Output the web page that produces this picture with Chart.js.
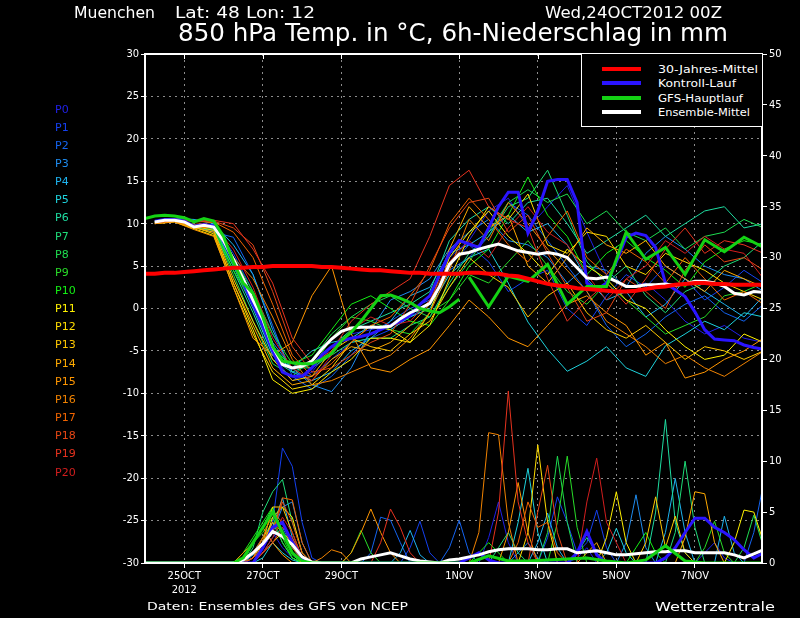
<!DOCTYPE html>
<html>
<head>
<meta charset="utf-8">
<title>850 hPa Temp. Muenchen</title>
<script src="https://cdn.jsdelivr.net/npm/chart.js@4.4.0/dist/chart.umd.min.js"></script>
<style>
  html, body { margin: 0; padding: 0; background: #000; }
  #wrap { position: relative; width: 800px; height: 618px; overflow: hidden; background: #000; }
  #c { position: absolute; left: 0; top: 0; }
  .t { position: absolute; color: #fff; font-family: "DejaVu Sans", sans-serif; white-space: nowrap; line-height: 1; transform-origin: 0 0; }
  #legend { position: absolute; left: 581px; top: 54px; width: 180px; height: 72px; background: #000; border-left: 1px solid #fff; border-bottom: 1px solid #fff; }
  .sw { position: absolute; left: 20px; width: 39px; height: 4px; }
</style>
</head>
<body>
<div id="wrap">
  <canvas id="c" width="800" height="618"></canvas>

  <div class="t" data-w="81" style="left:74px;top:5.6px;font-size:15px">Muenchen</div>
  <div class="t" data-w="140" style="left:175px;top:5.6px;font-size:15px">Lat: 48 Lon: 12</div>
  <div class="t" data-w="177" style="left:545px;top:5.6px;font-size:15px">Wed,24OCT2012 00Z</div>
  <div class="t" data-w="550" style="left:178px;top:21.4px;font-size:24px">850 hPa Temp. in °C, 6h-Niederschlag in mm</div>

  <div id="members"></div>

  <div id="legend">
    <div class="sw" style="top:13px;background:#ff0000"></div>
    <div class="sw" style="top:27px;background:#2a14ff"></div>
    <div class="sw" style="top:42px;background:#14d214"></div>
    <div class="sw" style="top:56px;background:#ffffff"></div>
    <div class="t" data-w="100" style="left:76px;top:9.5px;font-size:11px">30-Jahres-Mittel</div>
    <div class="t" data-w="78" style="left:76px;top:23.5px;font-size:11px">Kontroll-Lauf</div>
    <div class="t" data-w="85" style="left:76px;top:38.5px;font-size:11px">GFS-Hauptlauf</div>
    <div class="t" data-w="92" style="left:76px;top:52.5px;font-size:11px">Ensemble-Mittel</div>
  </div>

  <div class="t" data-w="261" style="left:147px;top:602px;font-size:10px">Daten: Ensembles des GFS von NCEP</div>
  <div class="t" data-w="120" style="left:655px;top:600.5px;font-size:12px">Wetterzentrale</div>
</div>

<script>
// forecast hours since 24OCT2012 00Z
const hours6 = [0,6,12,18,24,30,36,42,48,54,60,66,72,78,84,90,96,102,108,114,120,126,132,138,
  144,150,156,162,168,174,180,186,192,198,204,210,216,222,228,234,240,246,252,258,264,270,276,282,
  288,294,300,306,312,318,324,330,336,342,348,354,360,366,372,378];
const hours12 = [6,18,30,42,54,66,78,90,102,114,126,138,150,162,174,186,
  198,210,222,234,246,258,270,282,294,306,318,330,342,354,366,378];
const gfsHoursHi = hours6.slice(0, 33);
const gfsHoursLo = hours12.slice(16);

const dateHours = [24, 72, 120, 192, 240, 288, 336];
const dateLabels = [["25OCT", "2012"], "27OCT", "29OCT", "1NOV", "3NOV", "5NOV", "7NOV"];

const memberNames = ["P0","P1","P2","P3","P4","P5","P6","P7","P8","P9","P10",
  "P11","P12","P13","P14","P15","P16","P17","P18","P19","P20"];
const memberColors = ['#2020e6','#1440f0','#1464f0','#1e8cf0','#1eb4f0','#1ed2dc','#1edca0',
  '#1edc78','#1edc50','#28dc28','#14f014','#fff000','#ffdc00','#ffc800','#ffaa00','#ff9600',
  '#f08200','#f06400','#e64614','#e6321e','#d21e1e'];

// 850 hPa temperature of the members (12h steps, hours12)
const memberTemp = [
  [10.2,10.5,9.8,9.6, 5.5,0.5,-5.5,-8.5, -7.5,-4.5,-3.0,-2.5, -2.0,-0.5,1.5,6.0, 8.0,11.5,13.0,9.5, 12.0,14.5,9.0,4.0, 2.5,3.0,1.0,-1.5, -3.0,-2.0,-3.5,-4.0],
  [10.3,10.6,9.9,9.9, 6.5,2.0,-3.0,-7.5, -8.0,-6.0,-4.0,-3.5, -2.5,-1.0,0.5,5.0, 7.5,5.5,2.0,3.5, 4.5,0.0,-2.0,1.5, 4.0,2.5,5.0,3.5, 1.0,2.5,4.5,3.0],
  [10.1,10.4,9.6,9.0, 8.4,4.0,-2.0,-8.0, -9.5,-8.0,-5.5,-3.0, -1.5,0.0,1.0,4.5, 6.0,8.5,12.5,11.0, 8.0,5.0,2.0,-2.0, -4.5,-3.0,-1.0,0.5, 1.5,-0.5,-1.5,0.5],
  [10.2,10.5,9.7,9.5, 6.0,1.5,-4.0,-7.0, -9.0,-9.8,-7.0,-2.5, 1.0,2.0,3.5,7.0, 9.0,10.5,8.0,7.5, 6.0,3.0,5.0,4.5, 2.5,6.5,8.5,7.0, 5.0,4.0,3.5,2.0],
  [10.3,10.6,10.5,10.0, 7.5,4.0,-2.5,-7.5, -8.5,-7.5,-5.0,-3.5, -1.5,1.5,2.5,6.5, 7.5,9.0,11.0,9.0, 10.0,7.5,3.5,1.0, 2.0,-1.0,0.5,3.5, 2.0,0.5,-1.0,1.5],
  [10.2,10.4,9.8,9.7, 5.0,0.0,-5.5,-7.0, -5.0,-4.0,-3.5,-2.0, -2.5,-1.0,0.0,4.0, 6.0,7.0,3.0,-1.6, -4.8,-7.4,-6.2,-4.5, -7.0,-8.0,-4.4,-3.0, -1.5,-2.5,-0.5,-1.0],
  [10.1,10.3,9.5,9.2, 4.5,-0.5,-6.0,-7.5, -6.5,-4.5,-2.5,-1.5, -0.5,0.5,2.0,8.0, 10.5,12.0,10.0,12.5, 13.0,10.0,6.5,8.0, 9.5,11.0,8.5,10.0, 11.5,12.0,9.5,10.0],
  [10.2,10.5,9.7,9.4, 5.0,0.5,-4.5,-7.0, -7.0,-5.5,-4.0,-3.5, -3.5,-2.0,-1.0,3.0, 6.5,8.5,12.0,13.0, 16.3,11.0,5.5,3.0, 5.0,1.5,-0.5,2.0, 3.0,5.0,6.0,8.0],
  [10.2,10.4,9.6,9.3, 4.0,-1.5,-6.5,-8.0, -6.0,-3.0,-1.0,0.5, 1.5,0.0,-1.0,2.5, 5.5,9.0,12.5,14.0, 12.5,13.5,10.0,11.5, 9.0,8.0,9.5,7.0, 8.5,9.0,10.5,9.5],
  [10.3,10.6,9.9,9.8, 6.0,2.0,-3.0,-6.5, -7.0,-3.5,-1.0,-1.5, -2.5,-3.0,-0.5,1.0, 4.0,3.0,5.5,8.0, 5.0,2.0,0.5,3.0, 1.0,-1.0,-3.0,-2.0, -1.0,1.5,2.0,3.0],
  [10.2,10.5,9.8,9.6, 4.5,0.5,-5.0,-6.5, -5.5,-2.5,0.5,1.5, 0.0,-1.5,-2.0,1.0, 5.0,7.0,11.0,15.5, 11.0,8.5,4.0,6.5, 8.0,6.0,4.5,2.5, 5.5,7.0,8.0,7.5],
  [10.1,10.3,9.6,8.8, 3.0,-2.5,-8.4,-10.0, -9.5,-7.5,-6.0,-3.5, -3.5,-4.0,-0.5,6.0, 9.0,11.5,8.5,6.5, 4.0,7.0,5.0,3.5, 1.0,0.0,-2.5,-4.5, -6.0,-5.5,-3.0,-4.0],
  [10.0,10.2,9.4,8.6, 2.5,-3.0,-7.5,-9.5, -9.0,-7.0,-4.0,-2.0, -2.5,-4.0,-2.0,3.5, 8.5,12.0,10.5,13.5, 7.5,6.5,9.0,8.5, 5.0,4.0,6.5,5.5, 4.5,3.0,2.0,1.0],
  [10.1,10.4,9.7,9.2, 3.5,-1.5,-6.0,-8.5, -8.0,-5.0,-3.5,-4.5, -5.0,-3.0,-1.5,2.5, 6.0,4.0,2.5,-1.0, 1.5,3.0,-0.5,-2.5, -3.5,-2.0,-4.0,-6.0, -4.5,-5.0,-6.0,-5.0],
  [10.0,10.3,9.5,9.0, 3.0,-2.0,-7.0,-9.0, -8.5,-6.0,-4.5,-5.0, -4.0,-2.0,0.5,7.0, 12.0,9.5,11.0,5.0, 3.0,6.0,9.5,7.5, 6.5,8.0,5.0,3.5, 2.0,4.5,3.5,2.5],
  [10.0,10.2,9.3,8.5, 2.5,-3.5,-5.5,-4.0, 1.5,5.0,-3.0,-7.0, -7.5,-6.0,-4.8,-2.0, 1.0,-1.0,-3.5,-4.5, -2.0,0.5,1.5,-0.5, -2.0,-5.5,-4.0,-8.2, -7.5,-6.0,-5.0,-3.5],
  [10.1,10.3,9.6,9.5, 6.0,3.5,-1.0,-6.0, -9.0,-8.5,-7.5,-6.5, -5.5,-3.5,-0.5,4.5, 10.5,8.0,12.5,10.0, 7.0,4.5,2.0,-1.5, -3.0,-4.5,-6.5,-5.5, -7.0,-8.0,-6.5,-5.0],
  [10.2,10.5,9.9,10.2, 9.0,6.0,0.5,-5.5, -8.0,-6.5,-4.0,-2.0, -1.0,1.5,4.5,10.0, 13.0,10.5,7.5,5.5, 8.5,11.5,6.0,4.0, 7.0,5.5,3.0,6.0, 3.5,1.0,2.0,0.5],
  [10.3,10.6,10.2,10.3, 9.5,7.5,2.0,-4.5, -7.5,-7.0,-5.5,-4.0, -3.0,0.5,5.0,9.5, 12.5,13.0,9.0,11.0, 6.5,2.5,-1.5,-0.5, 3.5,2.0,0.0,4.5, 7.5,5.5,6.0,4.5],
  [10.2,10.5,10.3,10.4, 10.0,7.0,3.0,-3.5, -6.5,-5.0,-1.5,0.5, 2.0,3.5,8.5,14.5, 16.3,12.0,10.5,9.5, 3.5,-1.5,1.0,3.0, 0.5,3.5,7.0,9.5, 6.5,8.0,7.5,6.5],
  [10.1,10.4,9.8,9.7, 7.0,2.5,-3.5,-7.0, -8.5,-5.5,-2.5,-1.0, -2.0,-1.5,1.0,5.5, 8.0,6.0,9.5,12.0, 9.0,7.5,4.0,1.0, 3.5,5.0,8.0,6.5, 8.5,7.0,6.5,3.5]
];

// 6h precipitation of the members in mm (hours6)
const memberPrecip = [
  [0,0,0,0,0,0,0,0,0,0,0,0.5,2,3,1.5,0.5, 0,0,0,0,0,0,0,0,0,0,0,0,0,0,0,0, 0,0,0,2.5,6,2,0,0,0,0,0,0,0.5,1.5,0,0, 0,0,0,0,0,0,0,0,0,1,2,0.5,0,0,0,0],
  [0,0,0,0,0,0,0,0,0,0,0,0.5,1.5,4,11.3,9.5, 4,0.5,0,0,0,0,0,0,0,0,0,1.5,4.1,1,0,0, 0,0,0,0,0,0,0,0,0,2.5,6.5,4,1,2,5.2,1.5, 0,0,0,0,0,0,0,0,0,0,0,0,0,0,0,0],
  [0,0,0,0,0,0,0,0,0,0,0,0,1,2.5,3.5,1.5, 0.3,0,0,0,0,0,0,1,4.5,4.2,2,0,0,0,0,1.5, 4.2,1,0,0,0,0,0,0,0,0,0,0,0,0,0,0, 0,0,0,0,0,0,0,0,0,0,0,0,0,0,3,7.9],
  [0,0,0,0,0,0,0,0,0,0,0,0,1.5,3,5.5,6, 2,0,0,0,0,0,0,0,0,0,0,0,0,0,0,0, 0,0,0,0,0,0,1,2,0.5,0,0,0,0,0,0,0, 0,2,6.7,1.5,0,0,0,0,0,0,0,0,0,0,0,0],
  [0,0,0,0,0,0,0,0,0,0,0,0.8,2,3.5,6.4,2.5, 0.5,0,0,0,0,0,0,0,0,0,1,3.2,0.8,0,0,0, 0,0,0,0,0,0,0,0,2,4.9,1.5,0,0,0,0,0, 0,0,0,0,0,3,8.3,3,0,0,0,4.6,1,0,0,0],
  [0,0,0,0,0,0,0,0,0,0,0,0,0.5,2,1,0.3, 0,0,0,0,0,0,0,0,0,0,0,0,0,0,0,0, 0,0,0,0,0,0,4,9.3,3,0,0,0,0,0,0,1, 3.4,1,0,0,0,0,0,0,0,0,0,0,0,0,0,0],
  [0,0,0,0,0,0,0,0,0,0,0,1,2.5,4,2,0.5, 0,0,0,0,0,0,0,0,0,0,0,0,0,0,0,0, 0,0,0,0,0,0,0,0,0,0,0,0,1,2.5,1,0, 0,0,0,0,5,14.1,4,1,0,0,0,0,0,0,0,0],
  [0,0,0,0,0,0,0,0,0,0,0,1.5,5,7,8.2,4, 1,0,0,0,0,0,0,0,0,0,0,0,0,0,0,0, 0,0,0,0,1.5,3,1,0,0,0,0,0,0,0,0,0, 0,0,0,0,0,0,3,10,3.5,0,0,0,0,0,0,0],
  [0,0,0,0,0,0,0,0,0,0,0,2,3.5,5.5,3,0.8, 0,0,0,0,0,0,0,0,0,0,0,0,0,0,0,0, 0,0,0,0,0,0,0,0,0,3,10.5,4,0,0,0,0, 0,0,0,0,0,0,0,0,0,0,0,0,0,1.5,4.7,1.5],
  [0,0,0,0,0,0,0,0,0,0,0.5,2,3,4.5,2,0.5, 0,0,0,0,0,1,3.2,1,0,0,0,0,0,0,0,0, 0,0,0,0,0,0,0,0,0,0,4,10.5,3.5,0,0,0, 0,0,0,0,0,0,0,0,0,1.5,4.1,1,0,0,0,0],
  [0,0,0,0,0,0,0,0,0,0,1,2.5,4,5.5,2.5,0.5, 0,0,0,0,0,0,0,0,0,0,0,0,0,0,0,0, 0,0,1,2,1,0,0,0,0,0,0,0,0,0,0,0, 0,0,1.5,3,1,0,0,0,0,0,0,0,0,0,0,0],
  [0,0,0,0,0,0,0,0,0,0,0,0,1.5,4.5,5.5,4.5, 1,0,0,0,0,0,0,0,0,0,0,0,0,0,0,0, 0,0,0,0,0,0,0,0,0,0,0,0,0,0,0,2.5, 7,2,0,0,0,0,0,0,0,0,0,0,2,5.2,5,2],
  [0,0,0,0,0,0,0,0,0,0,0,0,1,2,3,2, 0.5,0,0,0,0,0,0,0,0,0,0,0,0,0,0,0, 0,0,0,0,0,0,0,3,11.6,4,0,0,0,0,0,0, 0,0,0,0,0,0,0,0,0,0,0,0,0,0,0,0],
  [0,0,0,0,0,0,0,0,0,0,0,0.5,2,5.5,5.5,3, 0.5,0,0,0,0,0,0,0,0,0,0,0,0,0,0,0, 0,0,0,0,0,0,0,0,0,0,0,0,0,0,0,0, 0,0,0,2,6.5,1.5,4.6,1,0,0,0,0,0,0,0,0],
  [0,0,0,0,0,0,0,0,0,0,0,0,2,4,3,1, 0,0,0,0,0,0,0,0,0,0,0,0,0,0,0,0, 0,0,0,0,0,0,0,0,0,0,0,0,0,1,2,0, 0,0,0,0,0,0,0,2.5,7,6.8,2,0,0,0,0,0],
  [0,0,0,0,0,0,0,0,0,0,1,2,3.5,2,0.8,0, 0,0,0,0,0,1,3,5.3,3,1,0,0,0,0,0,0, 0,0,0,0,0,3,7.9,3,0,0,0,0,0,0,0,0, 0,0,0,0,0,0,0,0,0,0,0,0,0,0,0,0],
  [0,0,0,0,0,0,0,0,0,0,0,0.5,2.5,5,4,1.5, 0.3,0,0.5,1.3,1,0,0,0,0,0,0,0,0,0,0,0, 0,0,3,12.8,12.6,4,0,0,0,0,0,0,0,0,0,0, 0,0,0,0,0,0,0,0,0,0,0,0,0,0,0,0],
  [0,0,0,0,0,0,0,0,0,0,0,1,2.5,3,6.4,6.2, 2,0,0,0,0,0,0,0,0,0,0,0,0,0,0,0, 0,0,0,0,0,0,2,6,3.5,4,1,0,0,0,0,0, 0,0,0,0,0,0,0,0,0,0,0,0,0,0,0,0],
  [0,0,0,0,0,0,0,0,0,0,0,0.5,1.5,3,6,4, 1,0,0,0,0,0,0,0,0,0,0,0,0,0,0,0, 0,0,0,0,0,0,0,0,5,9.6,3,0,0,0,0,0, 0,0,0,0,0,0,0,0,0,0,0,0,0,0,0,0],
  [0,0,0,0,0,0,0,0,0,0,0,0,1,2,3.5,2.5, 0.5,0,0,0,0,0,0,0,2,5.3,3.5,1,0,0,0,0, 0,0,0,0,5,16.9,6,2,0,0,0,0,0,0,0,0, 0,0,0,0,0,0,0,0,0,0,0,0,0,0,0,0],
  [0,0,0,0,0,0,0,0,0,0,0,0,1,2.5,4.5,3, 0.5,0,0,0,0,0,0,0,0,0,0,0,0,0,0,0, 0,0,0,0,0,0,0,0,0,0,0,0,0,6,10.3,4, 2,0,0,0,0,0,0,0,0,0,0,0,0,0,0,0]
];

// 30-year climatology (hours6)
const climTemp = [4.1,4.1,4.2,4.2,4.3,4.4,4.5,4.6, 4.7,4.8,4.8,4.9,4.9,5.0,5.0,5.0,
  5.0,5.0,4.9,4.9,4.8,4.7,4.6,4.5, 4.5,4.4,4.3,4.2,4.2,4.1,4.1,4.1,
  4.1,4.2,4.2,4.1,4.1,3.9,3.8,3.5, 3.2,2.9,2.7,2.6,2.4,2.3,2.2,2.1,
  2.0,2.0,2.1,2.3,2.5,2.6,2.8,2.9, 3.0,3.0,2.9,2.9,2.8,2.8,2.8,2.8];

// control run (hours6)
const controlTemp = [null,10.3,10.5,10.5,10.3,9.7,9.9,9.7, 8.0,5.5,3.0,0.5,-2.0,-5.0,-7.5,-8.0,
  -8.0,-7.0,-5.5,-4.5,-3.8,-3.5,-3.3,-3.0, -2.5,-2.0,-1.5,-0.8,0.5,1.5,4.0,6.5,
  8.0,7.6,7.2,9.5,12.0,13.7,13.7,8.9, 11.5,15.0,15.2,15.2,12.5,3.0,2.2,3.0,
  5.5,8.4,8.9,8.6,7.2,3.0,2.2,1.4, -0.4,-2.5,-3.6,-3.7,-3.8,-4.3,-4.6,-4.8];
const controlPrecip = [0,0,0,0,0,0,0,0,0,0,0,0,1.5,3.5,4,2,
  0.5,0,0,0,0,0,0,0,0,0,0,0,0,0,0,0,
  0,0.5,1,0.3,0,0,0,0,0,0,0,0,1,3.1,0.8,0,
  0,0,0,0,0,0.5,1.5,3,4.4,4.4,3.5,3,2.3,1.3,0.5,1];

// GFS main run: 6h up to 192h (gfsHoursHi), then 12h (gfsHoursLo)
const gfsTempHi = [10.6,10.9,11.0,10.9,10.7,10.2,10.6,10.3, 8.5,5.5,3.0,1.8,-1.0,-4.5,-6.2,-6.4,
  -6.5,-6.5,-6.0,-5.3,-3.8,-2.8,-1.5,0.0, 1.5,1.6,1.2,0.7,0.0,-0.3,-0.5,0.2, 1.1];
const gfsTempLo = [3.7,0.2,3.8,3.2,5.2,0.5,2.6,2.6,9.0,5.8,7.2,4.0,8.1,6.7,8.4,7.2];
const gfsPrecipHi = [0,0,0,0,0,0,0,0,0,0,0.5,2.0,3.5,5.0,3.0,1.0,
  0.2,0,0,0,0,0,0,0,0,0,0,0,0,0,0,0, 0];
const gfsPrecipLo = [0,0.7,0.2,0.2,0.3,0.4,0.5,0.2,0,0.3,1.7,0.2,0,0,0,0];

// ensemble mean (hours6)
const meanTemp = [null,10.2,10.4,10.4,10.2,9.6,9.8,9.6, 8.0,5.8,3.5,1.0,-1.3,-4.5,-6.6,-7.0,
  -6.8,-6.2,-4.8,-3.6,-2.7,-2.3,-2.2,-2.2, -2.2,-2.1,-1.2,-0.5,0.0,0.6,2.6,5.2,
  6.4,6.6,7.0,7.3,7.6,7.2,6.8,6.6, 6.4,6.6,6.4,6.0,4.8,3.6,3.5,3.7,
  3.2,2.6,2.6,2.8,2.8,2.9,2.7,2.9, 3.2,3.2,3.0,2.6,1.8,1.6,2.0,1.9];
const meanPrecip = [0,0,0,0,0,0,0,0,0,0,0.3,1.0,1.9,3.1,2.6,1.8,
  0.6,0.1,0,0,0,0,0.4,0.6,0.8,1.0,0.7,0.4,0.2,0.1,0,0.3,
  0.4,0.6,0.8,1.1,1.3,1.4,1.4,1.4,1.3,1.3,1.4,1.4,1.0,1.1,1.2,1.0,
  0.8,0.8,0.9,1.0,1.1,1.1,1.2,1.2,1.0,1.0,1.0,1.0,0.8,0.5,0.9,1.3];

// member labels on the left
const box = document.getElementById('members');
memberNames.forEach((name, i) => {
  const d = document.createElement('div');
  d.className = 't';
  d.textContent = name;
  d.style.left = '55px';
  d.style.top = (103.5 + i * 18.15) + 'px';
  d.style.fontSize = '11px';
  d.style.color = memberColors[i];
  box.appendChild(d);
});

// squeeze texts to the widths of the original
document.querySelectorAll('[data-w]').forEach(el => {
  const w = el.getBoundingClientRect().width;
  if (w > 0) el.style.transform = 'scaleX(' + (el.dataset.w / w) + ')';
});

const xy = (hrs, vals) => hrs.map((h, i) => ({ x: h, y: vals[i] }));

const datasets = [];
memberTemp.forEach((v, i) => datasets.push({
  data: xy(hours12, v), borderColor: memberColors[i], borderWidth: 1, yAxisID: 'y', order: 100 - i
}));
memberPrecip.forEach((v, i) => datasets.push({
  data: xy(hours6, v), borderColor: memberColors[i], borderWidth: 1, yAxisID: 'y2', order: 100 - i
}));
datasets.push({ data: xy(hours6, meanTemp), borderColor: '#ffffff', borderWidth: 3, yAxisID: 'y', order: 3 });
datasets.push({ data: xy(hours6, meanPrecip), borderColor: '#ffffff', borderWidth: 3, yAxisID: 'y2', order: 3 });
datasets.push({ data: xy(hours6, controlTemp), borderColor: '#2a14ff', borderWidth: 3, yAxisID: 'y', order: 4 });
datasets.push({ data: xy(hours6, controlPrecip), borderColor: '#2a14ff', borderWidth: 3, yAxisID: 'y2', order: 4 });
datasets.push({ data: xy(gfsHoursHi, gfsTempHi), borderColor: '#14d214', borderWidth: 3, yAxisID: 'y', order: 1 });
datasets.push({ data: xy(gfsHoursLo, gfsTempLo), borderColor: '#14d214', borderWidth: 3, yAxisID: 'y', order: 1 });
datasets.push({ data: xy(gfsHoursHi, gfsPrecipHi), borderColor: '#14d214', borderWidth: 3, yAxisID: 'y2', order: 1 });
datasets.push({ data: xy(gfsHoursLo, gfsPrecipLo), borderColor: '#14d214', borderWidth: 3, yAxisID: 'y2', order: 1 });
datasets.push({ data: xy(hours6, climTemp), borderColor: '#ff0000', borderWidth: 4, yAxisID: 'y', order: 0 });

const tickFont = { family: "'DejaVu Sans Condensed', 'DejaVu Sans', sans-serif", size: 11 };

// white frame round the plot and the small inward ticks on top
const framePlugin = {
  id: 'frame',
  afterDatasetsDraw(chart) {
    const { ctx, chartArea: a } = chart;
    const x = chart.scales.x;
    ctx.save();
    ctx.strokeStyle = '#fff';
    ctx.lineWidth = 2;
    ctx.strokeRect(a.left, a.top, a.right - a.left, a.bottom - a.top);
    ctx.lineWidth = 1;
    dateHours.forEach(h => {
      const px = Math.round(x.getPixelForValue(h)) + 0.5;
      ctx.beginPath();
      ctx.moveTo(px, a.top);
      ctx.lineTo(px, a.top + 5);
      ctx.stroke();
    });
    ctx.restore();
  }
};

new Chart(document.getElementById('c').getContext('2d'), {
  type: 'line',
  data: { datasets },
  plugins: [framePlugin],
  options: {
    responsive: false,
    animation: false,
    parsing: true,
    layout: { padding: { top: 54, left: 0, right: 0, bottom: 0 } },
    elements: {
      point: { radius: 0, hoverRadius: 0 },
      line: { tension: 0, fill: false }
    },
    plugins: { legend: { display: false }, tooltip: { enabled: false } },
    scales: {
      x: {
        type: 'linear', position: 'bottom', min: 0, max: 377,
        afterFit(s) { s.height = 55; },
        afterBuildTicks(s) { s.ticks = dateHours.map(v => ({ value: v })); },
        ticks: {
          color: '#fff', font: tickFont, maxRotation: 0, autoSkip: false, padding: 2,
          callback: (v, i) => dateLabels[i]
        },
        grid: { color: '#8c8c8c', lineWidth: 1, drawTicks: true, tickLength: 5, tickColor: '#fff', tickWidth: 1, tickBorderDash: [] },
        border: { display: false, dash: [2, 4] }
      },
      y: {
        position: 'left', min: -30, max: 30,
        afterFit(s) { s.width = 145; },
        ticks: { stepSize: 5, color: '#fff', font: tickFont, padding: 2 },
        grid: { color: '#8c8c8c', lineWidth: 1, drawTicks: true, tickLength: 4, tickColor: '#fff', tickWidth: 1, tickBorderDash: [] },
        border: { display: false, dash: [2, 4] }
      },
      y2: {
        position: 'right', min: 0, max: 50,
        afterFit(s) { s.width = 38; },
        ticks: { stepSize: 5, color: '#fff', font: tickFont, padding: 2 },
        grid: { drawOnChartArea: false, drawTicks: true, tickLength: 5, tickColor: '#fff', tickWidth: 1, tickBorderDash: [] },
        border: { display: false }
      }
    }
  }
});
</script>
</body>
</html>
